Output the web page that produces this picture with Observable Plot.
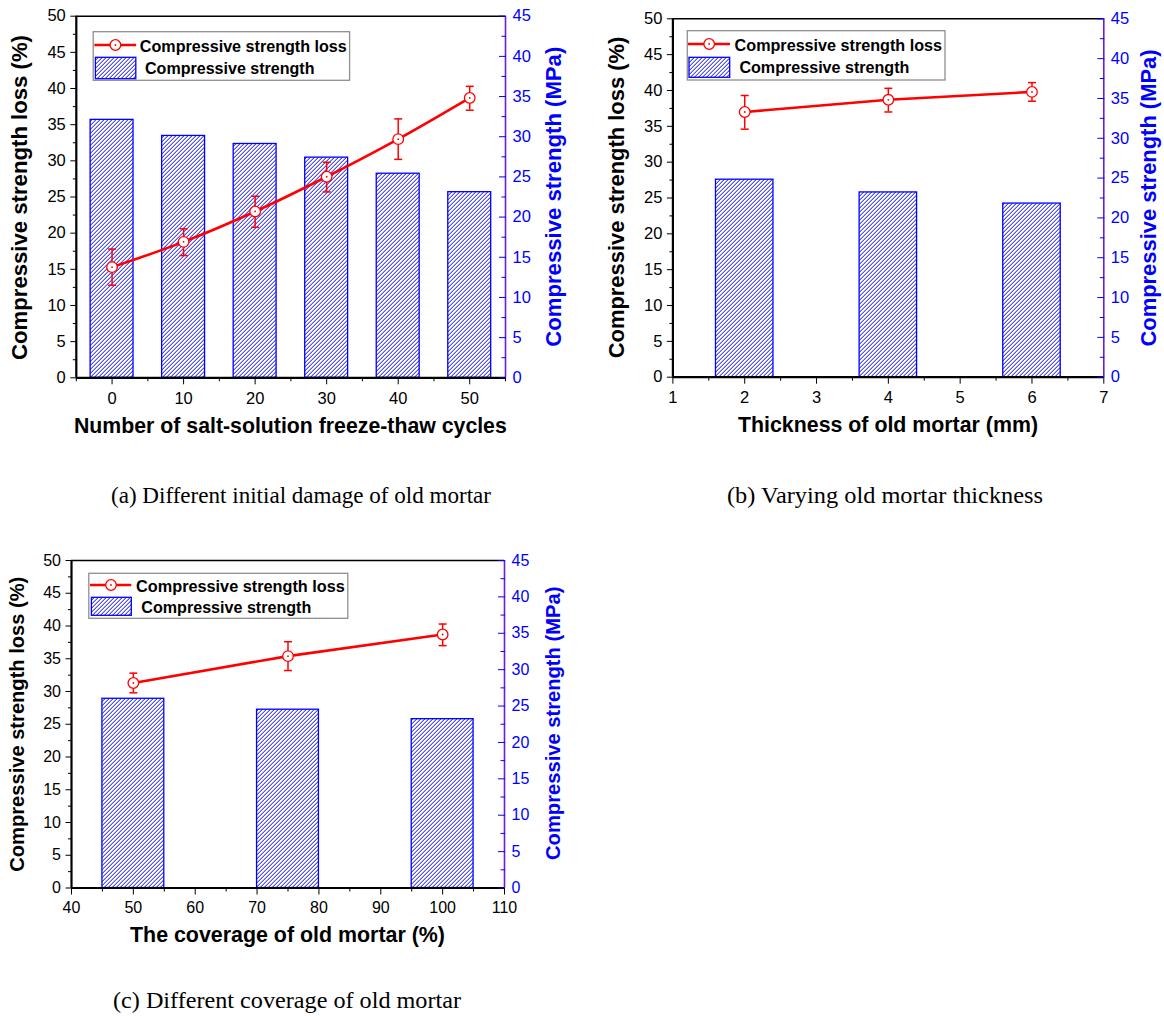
<!DOCTYPE html>
<html>
<head>
<meta charset="utf-8">
<script src="https://cdn.jsdelivr.net/npm/d3@7"></script>
<script src="https://cdn.jsdelivr.net/npm/@observablehq/plot@0.6"></script>
<style>
  body { margin: 0; background: #fff; }
  #root { position: relative; width: 1164px; height: 1016px; background: #fff; overflow: hidden; }
  .panel { position: absolute; }
</style>
</head>
<body>
<div id="root"></div>
<script>
// ---------------- DATA ----------------
// (a) salt-solution freeze-thaw cycles
const cyclesA = [0, 10, 20, 30, 40, 50];
const lossA = [15.3, 18.8, 23.0, 27.8, 33.0, 38.7];
const lossLoA = [12.8, 16.9, 20.8, 25.7, 30.2, 37.0];
const lossHiA = [17.8, 20.6, 25.1, 29.8, 35.8, 40.3];
const strengthA = [32.1, 30.1, 29.1, 27.4, 25.4, 23.1];

// (b) old mortar thickness (mm)
const thicknessB = [2, 4, 6];
const lossB = [37.0, 38.7, 39.8];
const lossLoB = [34.6, 37.0, 38.5];
const lossHiB = [39.3, 40.3, 41.1];
const strengthB = [24.8, 23.2, 21.8];

// (c) old mortar coverage (%)
const coverageC = [50, 75, 100];
const lossC = [31.3, 35.4, 38.7];
const lossLoC = [29.8, 33.2, 37.0];
const lossHiC = [32.8, 37.6, 40.3];
const strengthC = [26.0, 24.5, 23.2];

// tick labels
const lossTicks = [0, 5, 10, 15, 20, 25, 30, 35, 40, 45, 50];
const strengthTicks = [0, 5, 10, 15, 20, 25, 30, 35, 40, 45];
const xTicksA = [0, 10, 20, 30, 40, 50];
const xTicksB = [1, 2, 3, 4, 5, 6, 7];
const xTicksC = [40, 50, 60, 70, 80, 90, 100, 110];

// texts
const lossLabel = "Compressive strength loss (%)";
const strengthLabel = "Compressive strength (MPa)";
const legendLoss = "Compressive strength loss";
const legendStrength = "Compressive strength";
const xTitleA = "Number of salt-solution freeze-thaw cycles";
const xTitleB = "Thickness of old mortar (mm)";
const xTitleC = "The coverage of old mortar (%)";
const captionA = "(a) Different initial damage of old mortar";
const captionB = "(b) Varying old mortar thickness";
const captionC = "(c) Different coverage of old mortar";

// ---------------- STYLE ----------------
const SANS = "'Liberation Sans', Arial, Helvetica, sans-serif";
const SERIF = "'Liberation Serif', 'Times New Roman', serif";
const RED = "#ff0000";
const BLUE = "#0000ff";
const RAXIS = "#6a1ed6";
const K = 50 / 45; // right axis (MPa) -> left axis (%) units

function minorOf(major) {
  const step = major[1] - major[0];
  const out = [];
  for (let i = 0; i < major.length - 1; i++) out.push(major[i] + step / 2);
  return out;
}
function minorAround(major) {
  const step = major[1] - major[0];
  const out = [major[0] - step / 2];
  for (const v of major) out.push(v + step / 2);
  return out;
}

function addText(sel, o) {
  const t = sel.append("text")
    .attr("font-family", o.family || SANS)
    .attr("font-size", o.size)
    .attr("font-weight", o.weight || "normal")
    .attr("fill", o.fill || "#000")
    .attr("text-anchor", o.anchor || "middle")
    .text(o.text);
  if (o.rotate) t.attr("transform", `translate(${o.x},${o.y}) rotate(-90)`);
  else t.attr("x", o.x).attr("y", o.y);
  if (o.len) t.attr("textLength", o.len).attr("lengthAdjust", "spacingAndGlyphs");
  return t;
}

function makePanel(cfg) {
  const rows = cfg.xs.map((x, i) => ({ x, loss: cfg.loss[i], lo: cfg.lo[i], hi: cfg.hi[i], s: cfg.strength[i] }));
  const hatchId = "hatch-" + cfg.id;
  const hatch = `url(#${hatchId})`;
  const [x0, x1] = cfg.xDomain;
  const capSym = { draw(ctx) { ctx.moveTo(-4, 0); ctx.lineTo(4, 0); } };

  const svg = Plot.plot({
    width: cfg.width, height: cfg.height,
    marginLeft: cfg.mL, marginRight: cfg.mR, marginTop: cfg.mT, marginBottom: cfg.mB,
    x: { domain: cfg.xDomain, label: null },
    y: { domain: [0, 50], label: null },
    style: { fontFamily: SANS, color: "#000", background: "transparent", overflow: "visible" },
    marks: [
      Plot.rectY(rows, {
        x1: d => d.x - cfg.barHalf, x2: d => d.x + cfg.barHalf,
        y1: 0, y2: d => d.s * K,
        fill: hatch, stroke: BLUE, strokeWidth: 1.3
      }),
      Plot.line(rows, { x: "x", y: "loss", stroke: RED, strokeWidth: 2.6, curve: cfg.curve }),
      Plot.ruleX(rows, { x: "x", y1: "lo", y2: "hi", stroke: RED, strokeWidth: 1.5 }),
      Plot.dot(rows, { x: "x", y: "lo", symbol: capSym, fill: "none", stroke: RED, strokeWidth: 1.5 }),
      Plot.dot(rows, { x: "x", y: "hi", symbol: capSym, fill: "none", stroke: RED, strokeWidth: 1.5 }),
      Plot.dot(rows, { x: "x", y: "loss", r: 5.3, fill: "#fff", stroke: RED, strokeWidth: 1.3 }),
      Plot.dot(rows, { x: "x", y: "loss", r: 0.9, fill: RED, stroke: "none" }),

      // frame lines
      Plot.ruleY([50], { stroke: "#000", strokeWidth: 1.5 }),
      Plot.ruleX([x1], { stroke: RAXIS, strokeWidth: 1.6 }),
      Plot.ruleY([0], { stroke: "#000", strokeWidth: 2.2 }),
      Plot.ruleX([x0], { stroke: "#000", strokeWidth: 2.2 }),

      // left axis
      Plot.axisY(lossTicks, { anchor: "left", tickSize: 5.5, tickPadding: 5, fontSize: cfg.tickFont, label: null, color: "#000" }),
      Plot.axisY(minorOf(lossTicks), { anchor: "left", tickSize: 3, tickFormat: () => "", label: null, color: "#000" }),
      // right axis (MPa)
      Plot.axisY(strengthTicks.map(v => v * K), {
        anchor: "right", tickSize: 0, tickPadding: 7, fontSize: cfg.tickFont, label: null, color: BLUE,
        tickFormat: d => String(Math.round(d / K))
      }),
      Plot.axisY(strengthTicks.map(v => v * K), { anchor: "right", tickSize: 7, dx: -7, tickFormat: () => "", label: null, color: BLUE }),
      Plot.axisY(minorOf(strengthTicks).concat([47.5]).filter(v => v <= 50 / K).map(v => v * K), { anchor: "right", tickSize: 4.5, dx: -4.5, tickFormat: () => "", label: null, color: BLUE }),
      // bottom axis
      Plot.axisX(cfg.xTicks, { anchor: "bottom", tickSize: 7, tickPadding: 7, fontSize: cfg.tickFont, label: null, color: "#000" }),
      Plot.axisX(cfg.xMinor, { anchor: "bottom", tickSize: 4, tickFormat: () => "", label: null, color: "#000" })
    ]
  });

  const s = d3.select(svg);
  // pixel-aligned diagonal hatch pattern (blue + lavender stripes on white)
  const defs = s.insert("defs", ":first-child");
  const pat = defs.append("pattern").attr("id", hatchId)
    .attr("patternUnits", "userSpaceOnUse").attr("width", 4).attr("height", 4)
    .attr("shape-rendering", "crispEdges");
  pat.append("rect").attr("width", 4).attr("height", 4).attr("fill", "#ffffff");
  for (let i = 0; i < 4; i++) {
    pat.append("rect").attr("x", i).attr("y", 3 - i).attr("width", 1).attr("height", 1).attr("fill", "#5050f2");
    pat.append("rect").attr("x", i).attr("y", (6 - i) % 4).attr("width", 1).attr("height", 1).attr("fill", "#adadf8");
  }

  // axis titles
  const T = cfg.titles;
  addText(s, { text: lossLabel, x: T.left[0], y: T.left[1], len: T.left[2], size: T.ySize, weight: "bold", rotate: true });
  addText(s, { text: strengthLabel, x: T.right[0], y: T.right[1], len: T.right[2], size: T.ySize, weight: "bold", rotate: true, fill: BLUE });
  addText(s, { text: cfg.xTitle, x: T.x[0], y: T.x[1], len: T.x[2], size: T.xSize, weight: "bold" });

  // legend
  const L = cfg.legend;
  const g = s.append("g");
  g.append("rect").attr("x", L.box[0]).attr("y", L.box[1]).attr("width", L.box[2]).attr("height", L.box[3])
    .attr("fill", "#fff").attr("stroke", "#8f8f8f").attr("stroke-width", 1.3);
  g.append("line").attr("x1", L.line[0]).attr("x2", L.line[1]).attr("y1", L.line[2]).attr("y2", L.line[2])
    .attr("stroke", RED).attr("stroke-width", 2.6);
  g.append("circle").attr("cx", L.line[3]).attr("cy", L.line[2]).attr("r", 5.3)
    .attr("fill", "#fff").attr("stroke", RED).attr("stroke-width", 1.3);
  g.append("circle").attr("cx", L.line[3]).attr("cy", L.line[2]).attr("r", 0.9).attr("fill", RED);
  addText(g, { text: legendLoss, x: L.t1[0], y: L.t1[1], len: L.t1[2], size: 16.5, weight: "bold", anchor: "start" });
  g.append("rect").attr("x", L.rect[0]).attr("y", L.rect[1]).attr("width", L.rect[2]).attr("height", L.rect[3])
    .attr("fill", hatch).attr("stroke", BLUE).attr("stroke-width", 1.3);
  addText(g, { text: legendStrength, x: L.t2[0], y: L.t2[1], len: L.t2[2], size: 16.5, weight: "bold", anchor: "start" });

  const wrap = document.createElement("div");
  wrap.className = "panel";
  wrap.style.left = cfg.left + "px";
  wrap.style.top = cfg.top + "px";
  wrap.appendChild(svg);
  document.getElementById("root").appendChild(wrap);
}

// ---------------- PANELS ----------------
makePanel({
  id: "a", left: 0, top: 0, width: 580, height: 460,
  mL: 75.8, mR: 75, mT: 15.7, mB: 82.7,
  xs: cyclesA, loss: lossA, lo: lossLoA, hi: lossHiA, strength: strengthA,
  xDomain: [-5, 55], xTicks: xTicksA, xMinor: minorAround(xTicksA),
  barHalf: 3, curve: "catmull-rom", tickFont: 16.5,
  xTitle: xTitleA,
  titles: { left: [26.8, 197.5, 325], right: [561.4, 196.7, 300], x: [290.4, 433, 432.8], ySize: 22, xSize: 21.3 },
  legend: { box: [93.2, 31.7, 256.4, 48.6], line: [94.3, 136.1, 45, 115.4], t1: [139.8, 51.7, 207],
            rect: [95.4, 57.3, 40.4, 21.4], t2: [145, 74, 169.5] }
});

makePanel({
  id: "b", left: 580, top: 0, width: 584, height: 460,
  mL: 92.4, mR: 60.7, mT: 18.3, mB: 83.3,
  xs: thicknessB, loss: lossB, lo: lossLoB, hi: lossHiB, strength: strengthB,
  xDomain: [1, 7], xTicks: xTicksB, xMinor: minorOf(xTicksB),
  barHalf: 0.4, curve: "linear", tickFont: 16.5,
  xTitle: xTitleB,
  titles: { left: [44, 197.5, 321.6], right: [576.4, 198, 297], x: [308, 432, 300], ySize: 22, xSize: 21.3 },
  legend: { box: [107.3, 30.7, 257.7, 49.3], line: [108, 150, 44, 129.2], t1: [154.6, 50.7, 207.4],
            rect: [109, 57.3, 40.7, 20], t2: [159.4, 73.3, 170] }
});

makePanel({
  id: "c", left: 0, top: 540, width: 580, height: 420,
  mL: 71, mR: 76, mT: 20, mB: 72.5,
  xs: coverageC, loss: lossC, lo: lossLoC, hi: lossHiC, strength: strengthC,
  xDomain: [40, 110], xTicks: xTicksC, xMinor: minorOf(xTicksC),
  barHalf: 5, curve: "linear", tickFont: 16,
  xTitle: xTitleC,
  titles: { left: [23.5, 184.2, 295], right: [560, 183.3, 273.3], x: [287.5, 401.7, 315], ySize: 20.2, xSize: 21.4 },
  legend: { box: [88.8, 33.3, 259, 45], line: [89.9, 131.3, 45, 111], t1: [136.1, 51.7, 208.7],
            rect: [91.4, 57.3, 39.9, 18], t2: [141.3, 72.7, 170] }
});

// ---------------- CAPTIONS ----------------
const cap = d3.select("#root").append("svg")
  .attr("width", 1164).attr("height", 1016)
  .style("position", "absolute").style("left", "0px").style("top", "0px").style("pointer-events", "none");
addText(cap, { text: captionA, x: 301, y: 503, size: 24, family: SERIF, len: 380 });
addText(cap, { text: captionB, x: 885, y: 503, size: 24, family: SERIF, len: 316 });
addText(cap, { text: captionC, x: 287, y: 1008, size: 24, family: SERIF, len: 348 });
</script>
</body>
</html>
